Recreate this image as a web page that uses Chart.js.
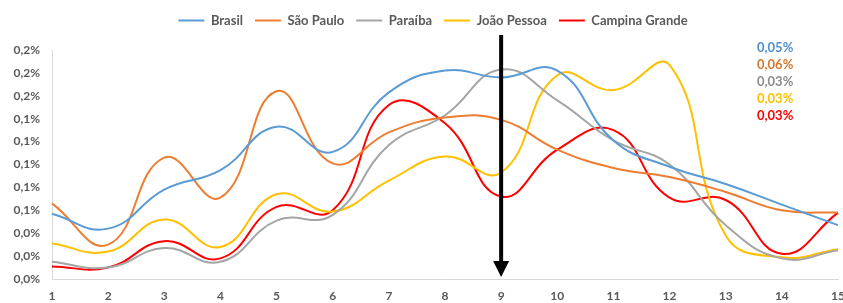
<!DOCTYPE html>
<html>
<head>
<meta charset="utf-8">
<script src="https://cdn.jsdelivr.net/npm/chart.js@4/dist/chart.umd.min.js"></script>
<style>
  html, body { margin: 0; padding: 0; background: #fff; }
  canvas { display: block; }
</style>
</head>
<body>
<canvas id="chart" width="843" height="303"></canvas>
<script>
const labels = ["1","2","3","4","5","6","7","8","9","10","11","12","13","14","15"];
const brasil        = [0.057, 0.044, 0.078, 0.095, 0.133, 0.111, 0.163, 0.182, 0.176, 0.182, 0.121, 0.098, 0.083, 0.065, 0.047];
const saoPaulo      = [0.066, 0.030, 0.106, 0.071, 0.164, 0.101, 0.128, 0.141, 0.139, 0.113, 0.097, 0.089, 0.076, 0.060, 0.058];
const paraiba       = [0.015, 0.010, 0.027, 0.015, 0.051, 0.056, 0.117, 0.143, 0.183, 0.156, 0.121, 0.100, 0.047, 0.018, 0.025];
const joaoPessoa    = [0.031, 0.024, 0.052, 0.028, 0.074, 0.059, 0.086, 0.107, 0.093, 0.178, 0.165, 0.187, 0.038, 0.019, 0.026];
const campinaGrande = [0.011, 0.010, 0.033, 0.018, 0.063, 0.060, 0.152, 0.136, 0.072, 0.113, 0.130, 0.071, 0.069, 0.022, 0.058];

const seriesNames  = ["Brasil", "São Paulo", "Paraíba", "João Pessoa", "Campina Grande"];
const seriesColors = ["#5B9BD5", "#ED7D31", "#A5A5A5", "#FFC000", "#FF0000"];
const sideNotes    = ["0,05%", "0,06%", "0,03%", "0,03%", "0,03%"];
const noteColors   = ["#4F8FD0", "#D2782F", "#8C8C8C", "#FFC000", "#FF0000"];
const arrowAt = "9";

const textGray = "#595959";
const fontFam = "Lato, 'Open Sans', sans-serif";

// push the plot area down below the legend, nudge legend right
const legendSpace = {
    id: "legendSpace",
    beforeInit(chart) {
        const origFit = chart.legend.fit;
        chart.legend.fit = function () {
            origFit.bind(chart.legend)();
            this.height += 13;
        };
    },
    afterLayout(chart) {
        chart.legend.left += 14;
        chart.legend.right += 14;
    }
};

// black arrow at x=9 and coloured notes on the right
const extras = {
    id: "extras",
    afterDatasetsDraw(chart) {
        const ctx = chart.ctx;
        const x = chart.scales.x.getPixelForValue(labels.indexOf(arrowAt));
        const top = chart.chartArea.top - 15;
        const bottom = chart.chartArea.bottom - 2;
        ctx.save();
        ctx.strokeStyle = "#000";
        ctx.fillStyle = "#000";
        ctx.lineWidth = 4;
        ctx.beginPath();
        ctx.moveTo(x, top);
        ctx.lineTo(x, bottom - 14);
        ctx.stroke();
        ctx.beginPath();
        ctx.moveTo(x - 8, bottom - 16);
        ctx.lineTo(x + 8, bottom - 16);
        ctx.lineTo(x, bottom);
        ctx.closePath();
        ctx.fill();

        ctx.font = "bold 13px " + fontFam;
        ctx.textAlign = "left";
        ctx.textBaseline = "middle";
        sideNotes.forEach((t, i) => {
            ctx.fillStyle = noteColors[i];
            ctx.fillText(t, 757, 48 + i * 17);
        });
        ctx.restore();
    }
};

const datasets = [brasil, saoPaulo, paraiba, joaoPessoa, campinaGrande].map((d, i) => ({
    label: seriesNames[i],
    data: d,
    borderColor: seriesColors[i],
    backgroundColor: seriesColors[i],
    borderWidth: 2,
    pointRadius: 0,
    tension: 0.45,
    fill: false
}));

new Chart(document.getElementById("chart").getContext("2d"), {
    type: "line",
    data: { labels: labels, datasets: datasets },
    plugins: [legendSpace, extras],
    options: {
        responsive: false,
        animation: false,
        layout: { padding: { left: 0, right: 5, top: 2, bottom: 0 } },
        plugins: {
            legend: {
                position: "top",
                labels: {
                    boxWidth: 26,
                    boxHeight: 2,
                    padding: 12,
                    color: textGray,
                    font: { family: fontFam, size: 13, weight: "bold" },
                    generateLabels(chart) {
                        return chart.data.datasets.map((ds, i) => ({
                            text: ds.label,
                            fillStyle: ds.borderColor,
                            strokeStyle: ds.borderColor,
                            lineWidth: 0,
                            fontColor: textGray,
                            datasetIndex: i
                        }));
                    }
                }
            },
            tooltip: { enabled: false }
        },
        scales: {
            x: {
                offset: false,
                afterFit(scale) { scale.paddingRight = 0; scale.height = 24; },
                grid: { display: false, drawTicks: false },
                border: { color: "#D9D9D9" },
                ticks: {
                    color: textGray,
                    padding: 10,
                    maxRotation: 0,
                    font: { family: fontFam, size: 12, weight: "bold" }
                }
            },
            y: {
                min: 0,
                max: 0.2,
                afterFit(scale) { scale.width = 52; },
                grid: { display: false, drawTicks: false },
                border: { color: "#D9D9D9" },
                ticks: {
                    stepSize: 0.02,
                    color: textGray,
                    padding: 12,
                    font: { family: fontFam, size: 12, weight: "bold" },
                    callback: v => v.toFixed(1).replace(".", ",") + "%"
                }
            }
        }
    }
});
</script>
</body>
</html>
